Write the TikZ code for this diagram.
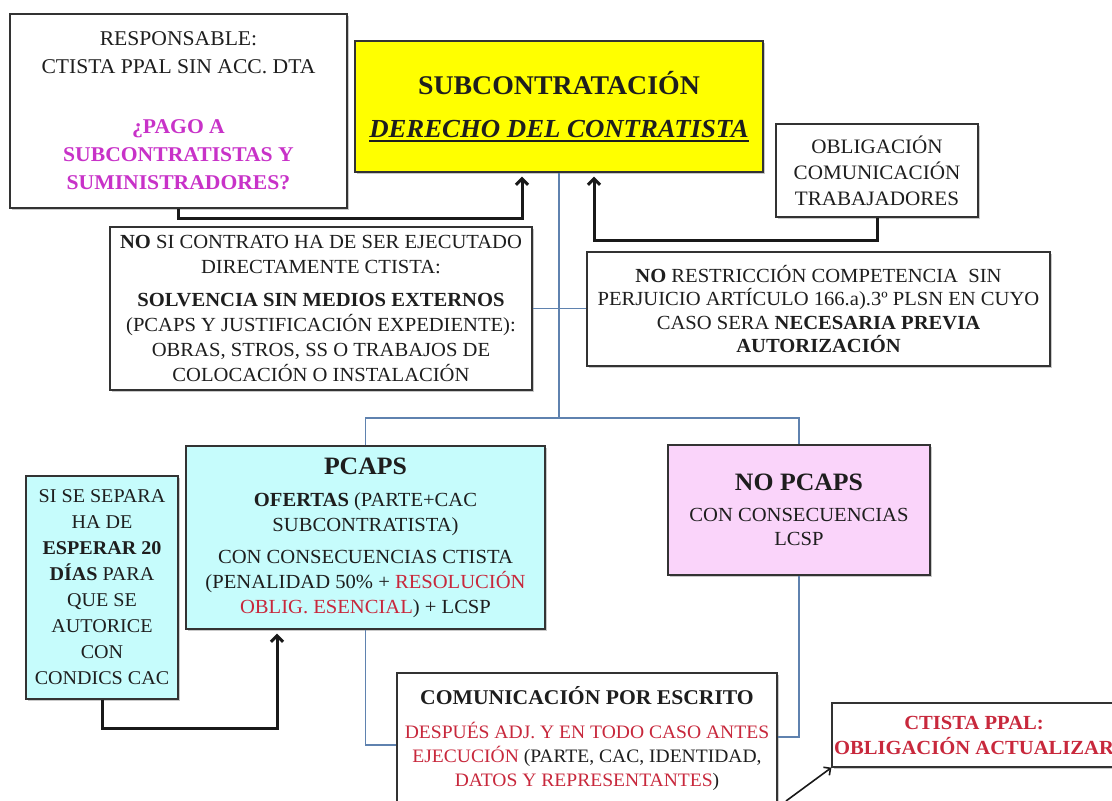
\documentclass[tikz,border=0pt]{standalone}
\usepackage{fontspec}
\setmainfont{Liberation Serif}[FakeStretch=1.03]
\usetikzlibrary{arrows.meta,shadows}
\definecolor{myyellow}{RGB}{255,255,0}
\definecolor{mycyan}{RGB}{198,252,252}
\definecolor{mypink}{RGB}{250,212,250}
\definecolor{mymag}{RGB}{200,50,200}
\definecolor{myred}{RGB}{200,40,60}
\definecolor{myblue}{RGB}{95,130,175}
\definecolor{mytext}{RGB}{30,30,30}
\newcommand{\magtxt}[1]{\textcolor{mymag}{\textbf{#1}}}
\newcommand{\redtxt}[1]{\textcolor{myred}{#1}}
\newcommand{\thickul}[1]{\setbox0\hbox{#1}\rlap{\raisebox{-4.5pt}{\rule{\wd0}{1.8pt}}}\box0}
\begin{document}
\begin{tikzpicture}[x=1pt,y=-1pt,
  box/.style={draw=black!80, line width=1.3pt, align=center, inner sep=0pt, fill=white, text=mytext,
    drop shadow={shadow xshift=2pt, shadow yshift=-2pt, fill=black!60, opacity=.35}},
  thk/.style={line width=3pt, draw=black!90, -{Straight Barb[length=6pt,width=12pt]}, shorten >=4pt},
  thn/.style={line width=1.6pt, draw=black!90, -{Straight Barb[length=5pt,width=10pt]}},
  bl/.style={draw=myblue, line width=1.2pt}]
\useasboundingbox (0,0) rectangle (1112,801);
\fill[white] (0,0) rectangle (1112,801);

\coordinate (j) at (559,418);

\node[box, minimum width=337pt, minimum height=194pt, font=\fontsize{21}{28}\selectfont] (resp) at (178.5,111)
  {RESPONSABLE:\\CTISTA PPAL SIN ACC. DTA\\[32pt]\magtxt{¿PAGO A}\\\magtxt{SUBCONTRATISTAS Y}\\\magtxt{SUMINISTRADORES?}};

\node[box, fill=myyellow, minimum width=408pt, minimum height=131pt, font=\fontsize{26}{34}\selectfont] (yellow) at (559,106.5)
  {{\fontsize{27}{34}\selectfont\bfseries SUBCONTRATACIÓN}\\[9pt]{\bfseries\itshape\thickul{DERECHO DEL CONTRATISTA}}};

\node[box, minimum width=202pt, minimum height=93pt, font=\fontsize{20.5}{26}\selectfont] (oblig) at (877,170.5)
  {OBLIGACIÓN\\COMUNICACIÓN\\TRABAJADORES};

\node[box, minimum width=422pt, minimum height=163pt, font=\fontsize{20}{25}\selectfont] (nosi) at (321,308.5)
  {\textbf{NO} SI CONTRATO HA DE SER EJECUTADO\\DIRECTAMENTE CTISTA:\\[8pt]\textbf{SOLVENCIA SIN MEDIOS EXTERNOS}\\(PCAPS Y JUSTIFICACIÓN EXPEDIENTE):\\OBRAS, STROS, SS O TRABAJOS DE\\COLOCACIÓN O INSTALACIÓN};

\node[box, minimum width=463pt, minimum height=114pt, font=\fontsize{20}{23.5}\selectfont] (norest) at (818.5,309)
  {\textbf{NO} RESTRICCIÓN COMPETENCIA\ \ SIN\\PERJUICIO ARTÍCULO 166.a).3º PLSN EN CUYO\\CASO SERA \textbf{NECESARIA PREVIA}\\\textbf{AUTORIZACIÓN}};

\node[box, fill=mycyan, minimum width=152pt, minimum height=223pt, font=\fontsize{19.5}{26}\selectfont] (sisep) at (102,587.5)
  {SI SE SEPARA\\HA DE\\\textbf{ESPERAR 20}\\\textbf{DÍAS} PARA\\QUE SE\\AUTORICE\\CON\\CONDICS CAC};

\node[box, fill=mycyan, minimum width=359pt, minimum height=183pt, font=\fontsize{20}{25}\selectfont] (pcaps) at (365.5,537.5)
  {{\fontsize{25}{30}\selectfont\bfseries PCAPS}\\[7pt]\textbf{OFERTAS} (PARTE+CAC\\SUBCONTRATISTA)\\[7pt]CON CONSECUENCIAS CTISTA\\(PENALIDAD 50\% + \redtxt{RESOLUCIÓN}\\\redtxt{OBLIG. ESENCIAL}) + LCSP};

\node[box, fill=mypink, minimum width=262pt, minimum height=130pt, font=\fontsize{20}{24}\selectfont] (nopcaps) at (799,510)
  {{\fontsize{25}{28}\selectfont\bfseries NO PCAPS}\\[7pt]CON CONSECUENCIAS\\LCSP};

\node[box, minimum width=380pt, minimum height=132pt, font=\fontsize{19}{24}\selectfont] (comm) at (587,739)
  {{\fontsize{21}{24}\selectfont\bfseries COMUNICACIÓN POR ESCRITO}\\[10pt]\redtxt{DESPUÉS ADJ. Y EN TODO CASO ANTES}\\\redtxt{EJECUCIÓN} (PARTE, CAC, IDENTIDAD,\\\redtxt{DATOS Y REPRESENTANTES})};

\node[box, minimum width=284pt, minimum height=64pt, font=\fontsize{20}{25}\selectfont\bfseries, text=myred] (ctista) at (974,735)
  {CTISTA PPAL:\\OBLIGACIÓN ACTUALIZAR};

% thin blue tree
\draw[bl] (yellow.south) -- (j);
\draw[bl] (pcaps.north) |- (j) -| (nopcaps.north);
\draw[bl] (nosi.east) -- (nosi.east -| norest.west);
\draw[bl] (nopcaps.south) |- (comm.east |- 0,737);
\draw[bl] (pcaps.south) |- (comm.west |- 0,745);

% thick arrows
\draw[thk] (resp.south) -- ++(0,10) -| ([xshift=-37pt]yellow.south);
\draw[thk] (oblig.south) -- ++(0,23) -| ([xshift=35pt]yellow.south);
\draw[thk] (sisep.south) -- ++(0,29) -| ([xshift=-88.5pt]pcaps.south);

% thin arrow to CTISTA PPAL
\coordinate (c0) at (786,801);
\draw[thn] (c0) -- (ctista.south west);
\end{tikzpicture}
\end{document}
